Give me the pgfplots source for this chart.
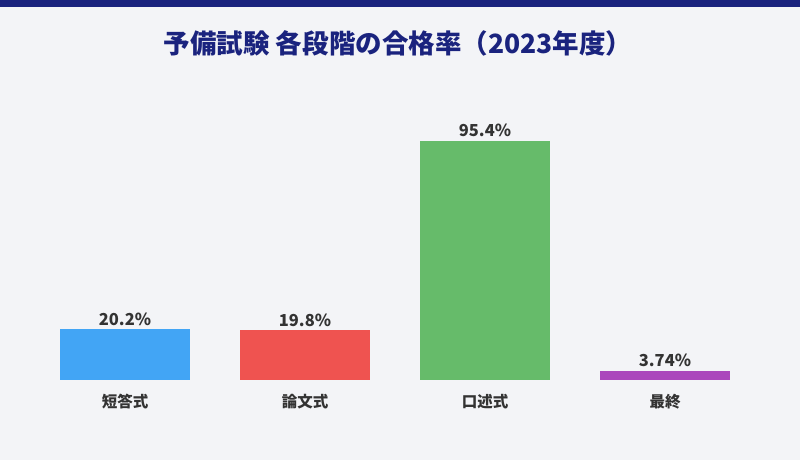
\documentclass[border=0pt]{standalone}
\usepackage{pgfplots}
\pgfplotsset{compat=1.18}
\usepackage{fontspec}
\setmainfont{Noto Sans CJK JP}
\definecolor{bg}{HTML}{F3F4F7}
\definecolor{navy}{HTML}{1A237E}
\definecolor{txt}{HTML}{333333}
\definecolor{cblue}{HTML}{42A5F5}
\definecolor{cred}{HTML}{EF5350}
\definecolor{cgreen}{HTML}{66BB6A}
\definecolor{cpurple}{HTML}{AB47BC}
\begin{document}
\begin{tikzpicture}[x=1pt,y=1pt]
\fill[bg] (0,0) rectangle (800,460);
\fill[navy] (0,453) rectangle (800,460);
\node[font=\fontsize{26.5}{30}\selectfont\bfseries, text=navy] at (398,417) {予備試験 各段階の合格率（2023年度）};
\begin{axis}[
  at={(35pt,80pt)}, anchor=south west,
  scale only axis, width=720pt, height=320pt,
  xmin=-0.5, xmax=3.5, ymin=0, ymax=127.7,
  ybar, bar width=130pt,
  axis line style={draw=none},
  hide y axis,
  xtick={0,1,2,3},
  xticklabels={短答式,論文式,口述式,最終},
  major tick length=0pt,
  x tick label style={font=\fontsize{15.5}{17}\selectfont\bfseries, text=txt, yshift=-11pt},
  nodes near coords,
  point meta=explicit symbolic,
  every node near coord/.append style={font=\fontsize{16.5}{18}\selectfont\bfseries, text=txt, yshift=0.5pt},
  clip=false,
]
\addplot[fill=cblue, draw=none, bar shift=0pt] coordinates {(0,20.2) [20.2\%]};
\addplot[fill=cred, draw=none, bar shift=0pt] coordinates {(1,19.8) [19.8\%]};
\addplot[fill=cgreen, draw=none, bar shift=0pt] coordinates {(2,95.4) [95.4\%]};
\addplot[fill=cpurple, draw=none, bar shift=0pt] coordinates {(3,3.74) [3.74\%]};
\end{axis}
\end{tikzpicture}
\end{document}
